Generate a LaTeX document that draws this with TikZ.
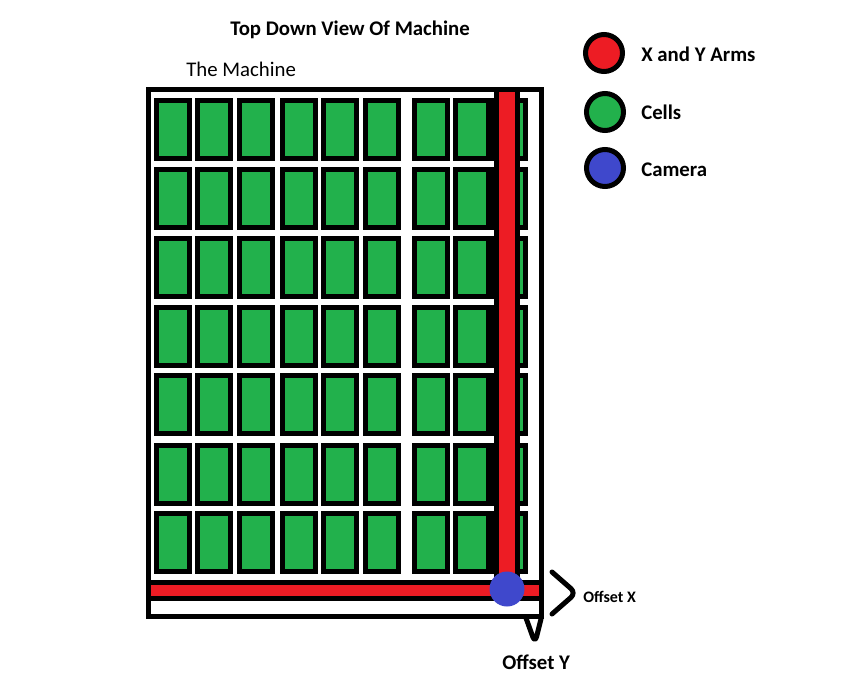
\documentclass[tikz,border=0pt]{standalone}
\usepackage{fontspec}
\setmainfont{Carlito}
\usepackage{tikz}
\usepackage{xcolor}
\usetikzlibrary{positioning}

\definecolor{armred}{HTML}{ED1C24}
\definecolor{cellgreen}{HTML}{22B14C}
\definecolor{camblue}{HTML}{3F48CC}

\begin{document}
\begin{tikzpicture}[
  x=0.75pt, y=-0.75pt,
  font=\fontsize{15.6}{18}\selectfont,
  thickline/.style={draw=black, line width=3.75pt},
  cellbox/.style={thickline, fill=cellgreen},
  armbar/.style={thickline, fill=armred},
  keydot/.style={circle, thickline, inner sep=0pt, minimum size=27.75pt},
  lbl/.style={inner sep=0pt, anchor=base west},
  brace/.style={thickline, line cap=round, line join=round, rounded corners=5pt}
]
\useasboundingbox (0,0) rectangle (852,674);

% frame of the machine
\draw[thickline, fill=white] (148.5,89.5) rectangle (541.5,616.5);

% grid of cells
\foreach \y in {98,167,236,305,373,443,511}
  \foreach \x in {154,195,237,280,321,363,412,453,490}
    \draw[cellbox] (\x+2.5,\y+2.5) rectangle (\x+35.5,\y+60.5);

% arms and camera
\draw[armbar] (496.5,89.5) rectangle (517.5,582.5);
\draw[armbar] (148.5,582.5) rectangle (541.5,598.5);
\node[circle, fill=camblue, inner sep=0pt, minimum size=26.25pt] (cam) at (507,589) {};

% offsets
\draw[brace] (552,572) -- (576,593) -- (552,614);
\draw[brace] (526,618) -- (535,643) -- (541,619);
\node[lbl, font=\fontsize{12}{14}\selectfont\bfseries] (offx) at (583,602) {Offset X};
\node[lbl, font=\fontsize{15.6}{18}\selectfont\bfseries] (offy) at (502,669) {Offset Y};

% titles
\node[lbl, font=\fontsize{15.6}{18}\selectfont\bfseries] (title) at (230,36) {Top Down View Of Machine};
\node[lbl] (machine) at (186,76) {The Machine};

% legend
\node[keydot, fill=armred] (k-arms) at (604,53) {};
\node[keydot, fill=cellgreen] (k-cells) at (605,112) {};
\node[keydot, fill=camblue] (k-cam) at (605,168) {};
\node[lbl, font=\fontsize{15.6}{18}\selectfont\bfseries] (t-arms) at (641,61) {X and Y Arms};
\node[lbl, font=\fontsize{15.6}{18}\selectfont\bfseries] (t-cells) at (641,119) {Cells};
\node[lbl, font=\fontsize{15.6}{18}\selectfont\bfseries] (t-cam) at (641,176) {Camera};
\end{tikzpicture}
\end{document}
